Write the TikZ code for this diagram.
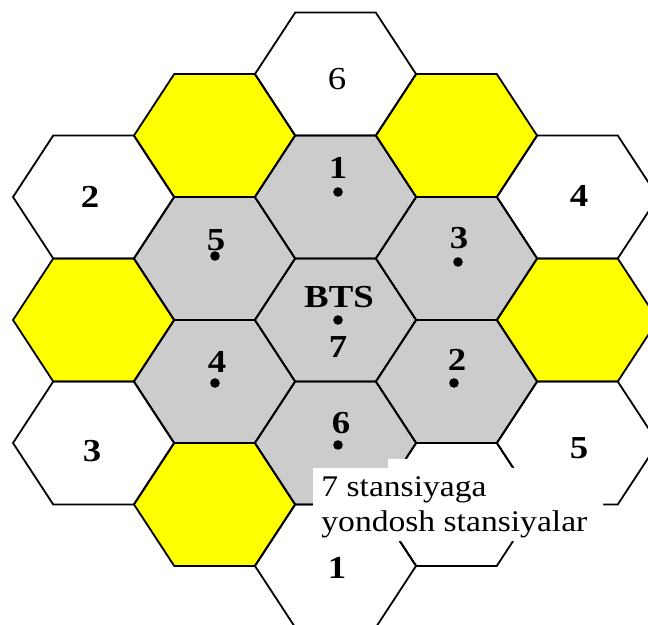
\documentclass[tikz,border=0pt]{standalone}
\usepackage{fontspec}
\setmainfont{Liberation Serif}
\usepackage{graphicx}
\definecolor{cellgray}{HTML}{CCCCCC}
\definecolor{cellyellow}{HTML}{FFFF00}
\newcommand{\hxs}[1]{\scalebox{1.15}[1]{#1}}
\newcommand{\hxl}[1]{\scalebox{1.12}[1]{#1}}
\tikzset{
  hexline/.style={draw=black,line width=0.9pt,line join=miter},
  cellnum/.style={inner sep=0pt,font=\fontsize{16}{19}\selectfont\bfseries},
  cellnumreg/.style={inner sep=0pt,font=\fontsize{16}{19}\selectfont},
  btsdot/.style={circle,fill=black,inner sep=0pt,minimum size=4.8pt},
  lbltext/.style={inner sep=0pt,anchor=base west,font=\fontsize{15}{18}\selectfont}
}
\begin{document}
\begin{tikzpicture}[x=0.5pt,y=-0.5pt]
\useasboundingbox (0,0) rectangle (648,625);
\fill[white] (0,0) rectangle (648,625);
\begin{scope}
\clip (0,0) rectangle (648,625);
\def\celllist{93.5/197/white, 93.5/320/cellyellow, 93.5/443/white,
  214.5/135.5/cellyellow, 214.5/258.5/cellgray, 214.5/381.5/cellgray, 214.5/504.5/cellyellow,
  335.5/74/white, 335.5/197/cellgray, 335.5/320/cellgray, 335.5/443/cellgray, 335.5/566/white,
  456.5/135.5/cellyellow, 456.5/258.5/cellgray, 456.5/381.5/cellgray, 456.5/504.5/white,
  577.5/197/white, 577.5/320/cellyellow, 577.5/443/white}
\foreach \x/\y/\c in \celllist {
  \fill[\c] (\x-80.5,\y) -- (\x-40.25,\y-61.5) -- (\x+40.25,\y-61.5) -- (\x+80.5,\y)
    -- (\x+40.25,\y+61.5) -- (\x-40.25,\y+61.5) -- cycle;
}
\foreach \x/\y/\c in \celllist {
  \draw[hexline] (\x-80.5,\y) -- (\x-40.25,\y-61.5) -- (\x+40.25,\y-61.5) -- (\x+80.5,\y)
    -- (\x+40.25,\y+61.5) -- (\x-40.25,\y+61.5) -- cycle;
}
% white label box
\fill[white] (313,468) -- (388,468) -- (388,459) -- (440,459) -- (440,468) -- (603,468)
  -- (603,541) -- (313,541) -- cycle;
\end{scope}
% outer cell numbers
\node[cellnumreg] (w6) at (337,79) {\hxs{6}};
\node[cellnum] (w2) at (90,197) {\hxs{2}};
\node[cellnum] (w4) at (579,196) {\hxs{4}};
\node[cellnum] (w3) at (92,451) {\hxs{3}};
\node[cellnum] (w5) at (579,448) {\hxs{5}};
\node[cellnum] (w1) at (337,568) {\hxs{1}};
% inner cells
\node[cellnum] (g1) at (338,168) {\hxs{1}};
\node[btsdot] (d1) at (338,192) {};
\node[cellnum] (g5) at (216,240) {\hxs{5}};
\node[btsdot] (d5) at (215,256) {};
\node[cellnum] (g3) at (459,238) {\hxs{3}};
\node[btsdot] (d3) at (458,262) {};
\node[cellnum] (bts) at (339,297) {\hxs{BTS}};
\node[btsdot] (d7) at (338,320) {};
\node[cellnum] (g7) at (338,347) {\hxs{7}};
\node[cellnum] (g4) at (217,362) {\hxs{4}};
\node[btsdot] (d4) at (215,383) {};
\node[cellnum] (g2) at (457,360) {\hxs{2}};
\node[btsdot] (d2) at (454,383) {};
\node[cellnum] (g6) at (341,423) {\hxs{6}};
\node[btsdot] (d6) at (338,445) {};
% label
\node[lbltext] (lbla) at (321,496) {\hxl{7 stansiyaga}};
\node[lbltext] (lblb) at (321,531.5) {\hxl{yondosh stansiyalar}};
\end{tikzpicture}
\end{document}
